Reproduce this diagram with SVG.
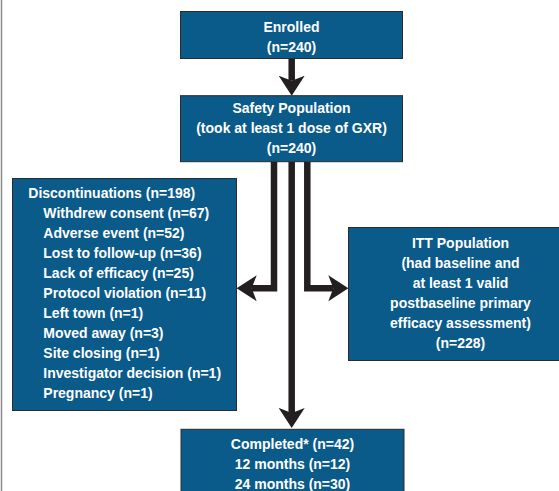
<svg xmlns="http://www.w3.org/2000/svg" width="559" height="491" viewBox="0 0 559 491">
  <style>
    .box { fill: #0a5a8a; stroke: #2b2b2b; stroke-width: 1; }
    .t { font-family: "Liberation Sans", Arial, sans-serif; font-weight: bold; font-size: 14px; fill: #ffffff; }
    .c { text-anchor: middle; }
    .conn { fill: none; stroke: #231f20; stroke-width: 6.5; stroke-linejoin: miter; }
  </style>
  <defs>
    <marker id="ah" viewBox="0 0 20 26" refX="5" refY="13" markerWidth="20" markerHeight="26" markerUnits="userSpaceOnUse" orient="auto">
      <path d="M0,0 L20,13 L0,26 L5,13 Z" fill="#231f20"/>
    </marker>
  </defs>
  <rect x="0" y="0" width="559" height="491" fill="#ffffff"/>
  <line x1="1.5" y1="0" x2="1.5" y2="491" stroke="#8a8a8a" stroke-width="1.5"/>

  <g id="connectors">
    <path class="conn" d="M291.7,58.7 V80.7" marker-end="url(#ah)"/>
    <path class="conn" d="M274,161.7 V288.3 H251.7" marker-end="url(#ah)"/>
    <path class="conn" d="M307.3,161.7 V288.3 H333.3" marker-end="url(#ah)"/>
    <path class="conn" d="M291.7,161.7 V413" marker-end="url(#ah)"/>
  </g>

  <g id="enrolled">
    <rect class="box" x="180.5" y="11.5" width="222" height="47"/>
    <text class="t c" x="291.5" y="31.7">Enrolled</text>
    <text class="t c" x="291.5" y="51.7">(n=240)</text>
  </g>

  <g id="safety">
    <rect class="box" x="180.5" y="95.7" width="222" height="66"/>
    <text class="t c" x="291.5" y="112.7">Safety Population</text>
    <text class="t c" x="291.5" y="132.7">(took at least 1 dose of GXR)</text>
    <text class="t c" x="291.5" y="152.7">(n=240)</text>
  </g>

  <g id="discontinuations">
    <rect class="box" x="12.5" y="178.5" width="224" height="232"/>
    <text class="t" x="28.3" y="198.3">Discontinuations (n=198)</text>
    <text class="t" x="43.3" y="218.3">Withdrew consent (n=67)</text>
    <text class="t" x="43.3" y="238.3">Adverse event (n=52)</text>
    <text class="t" x="43.3" y="258.3">Lost to follow-up (n=36)</text>
    <text class="t" x="43.3" y="278.3">Lack of efficacy (n=25)</text>
    <text class="t" x="43.3" y="298.3">Protocol violation (n=11)</text>
    <text class="t" x="43.3" y="318.3">Left town (n=1)</text>
    <text class="t" x="43.3" y="338.3">Moved away (n=3)</text>
    <text class="t" x="43.3" y="358.3">Site closing (n=1)</text>
    <text class="t" x="43.3" y="378.3">Investigator decision (n=1)</text>
    <text class="t" x="43.3" y="398.3">Pregnancy (n=1)</text>
  </g>

  <g id="itt">
    <rect class="box" x="348.5" y="227.5" width="225" height="133"/>
    <text class="t c" x="460.5" y="247.7">ITT Population</text>
    <text class="t c" x="460.5" y="267.7">(had baseline and</text>
    <text class="t c" x="460.5" y="287.7">at least 1 valid</text>
    <text class="t c" x="460.5" y="307.7">postbaseline primary</text>
    <text class="t c" x="460.5" y="327.7">efficacy assessment)</text>
    <text class="t c" x="460.5" y="347.7">(n=228)</text>
  </g>

  <g id="completed">
    <rect class="box" x="181" y="429.3" width="223" height="70"/>
    <text class="t c" x="292.5" y="449.3">Completed* (n=42)</text>
    <text class="t c" x="292.5" y="469.3">12 months (n=12)</text>
    <text class="t c" x="292.5" y="489.3">24 months (n=30)</text>
  </g>
</svg>
